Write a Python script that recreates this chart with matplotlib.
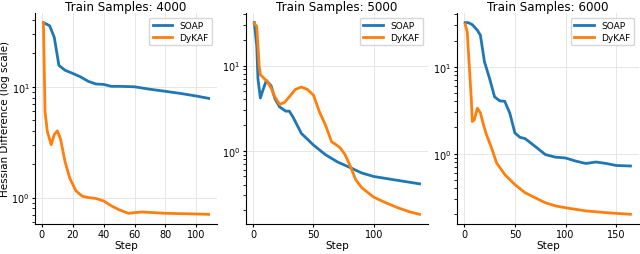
import matplotlib.pyplot as plt

# panel 1: train samples 4000
steps_4000_soap = [1, 5, 8, 11, 15, 20, 25, 30, 35, 40, 45, 50, 60, 70, 80, 90, 100, 108]
soap_4000 = [38, 35.6, 28, 15.6, 14.1, 13.2, 12.3, 11.2, 10.6, 10.5, 10.1, 10.1, 10.0, 9.5, 9.1, 8.7, 8.25, 7.86]
steps_4000_dykaf = [1, 2, 3.5, 6, 8, 10, 12, 15, 18, 22, 26, 30, 35, 40, 45, 50, 56, 60, 65, 80, 100, 108]
dykaf_4000 = [38, 6.0, 3.95, 3.0, 3.7, 4.0, 3.4, 2.1, 1.5, 1.15, 1.03, 1.0, 0.98, 0.93, 0.84, 0.775, 0.72, 0.73, 0.74, 0.72, 0.71, 0.705]

# panel 2: train samples 5000
steps_5000_soap = [1, 3, 4, 6, 8, 11, 15, 18, 22, 27, 30, 33, 40, 50, 60, 70, 80, 90, 100, 120, 138]
soap_5000 = [31.9, 17, 7, 4.17, 5.1, 6.7, 5.75, 4.1, 3.27, 2.92, 2.92, 2.5, 1.6, 1.17, 0.9, 0.74, 0.64, 0.55, 0.50, 0.45, 0.41]
steps_5000_dykaf = [1, 3, 5, 6, 9, 12, 15, 18, 22, 26, 30, 35, 40, 45, 50, 55, 60, 65, 68, 72, 76, 80, 85, 90, 100, 110, 120, 130, 138]
dykaf_5000 = [31, 29, 10, 7.8, 7.1, 6.4, 5.4, 4.3, 3.5, 3.7, 4.3, 5.25, 5.6, 5.25, 4.5, 2.86, 2.0, 1.28, 1.2, 1.09, 0.915, 0.69, 0.46, 0.37, 0.286, 0.246, 0.215, 0.192, 0.18]

# panel 3: train samples 6000
steps_6000_soap = [1, 4, 8, 13, 16, 20, 25, 30, 35, 40, 45, 50, 55, 60, 70, 80, 90, 100, 110, 120, 130, 140, 150, 164]
soap_6000 = [32.2, 32.2, 30.5, 26.3, 23, 11.4, 7.35, 4.5, 4.05, 4.0, 2.92, 1.73, 1.54, 1.49, 1.21, 0.975, 0.91, 0.89, 0.82, 0.77, 0.80, 0.77, 0.73, 0.72]
steps_6000_dykaf = [1, 3, 5, 7, 8, 10, 13, 16, 19, 22, 27, 32, 40, 50, 60, 70, 80, 90, 100, 120, 140, 164]
dykaf_6000 = [31, 25, 10.4, 4.3, 2.34, 2.45, 3.33, 2.95, 2.15, 1.65, 1.16, 0.78, 0.575, 0.44, 0.355, 0.31, 0.272, 0.25, 0.238, 0.219, 0.209, 0.2]

titles = ["Train Samples: 4000", "Train Samples: 5000", "Train Samples: 6000"]
panels = [
    (steps_4000_soap, soap_4000, steps_4000_dykaf, dykaf_4000),
    (steps_5000_soap, soap_5000, steps_5000_dykaf, dykaf_5000),
    (steps_6000_soap, soap_6000, steps_6000_dykaf, dykaf_6000),
]

fig, axes = plt.subplots(1, 3, figsize=(6.4, 2.55), dpi=100)
plt.subplots_adjust(left=0.055, right=0.998, bottom=0.118, top=0.945, wspace=0.16)

for ax, title, (xs, ys, xd, yd) in zip(axes, titles, panels):
    ax.plot(xs, ys, color='#1f77b4', lw=2, label='SOAP')
    ax.plot(xd, yd, color='#ff7f0e', lw=2, label='DyKAF')
    ax.set_yscale('log')
    ax.set_title(title, fontsize=8.6, pad=2)
    ax.set_xlabel('Step', fontsize=7.5, labelpad=0.5)
    ax.tick_params(labelsize=7, length=2.5, pad=1.5)
    ax.grid(True, color='#e6e6e6', lw=0.7)
    ax.grid(False, which='minor')
    ax.spines['top'].set_visible(False)
    ax.spines['right'].set_visible(False)
    ax.legend(loc='upper right', fontsize=6.5, handlelength=2.2, borderpad=0.4, labelspacing=0.3)

axes[0].set_ylabel('Hessian Difference (log scale)', fontsize=7.5, labelpad=1)

plt.savefig('out.png', dpi=100)
